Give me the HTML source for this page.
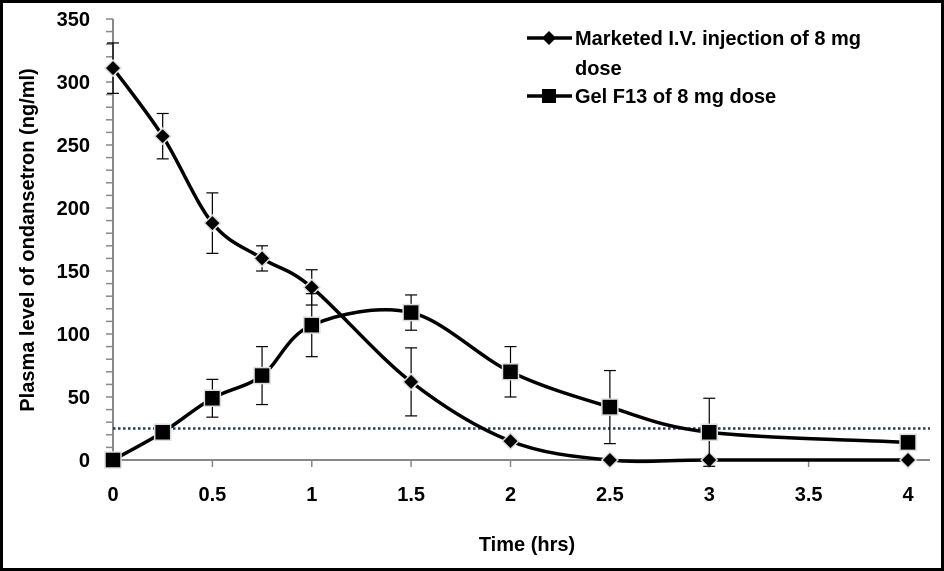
<!DOCTYPE html>
<html><head><meta charset="utf-8"><style>
body{margin:0;background:#fff}
svg{display:block;font-family:"Liberation Sans",sans-serif;font-weight:bold}
</style></head><body>
<svg id="chart" width="944" height="571">
<rect x="1.5" y="1.5" width="941" height="568" fill="#fff" stroke="#000" stroke-width="3"/>
<g id="g"></g>
</svg>
<script>
const xVals=[0,0.25,0.5,0.75,1,1.5,2,2.5,3,4];
const ivValues=[311,257,188,160,137,62,15,0,0,0];
const ivErr=[20,18,24,10,14,27,0,0,0,0];
const gelValues=[0,22,49,67,107,117,70,42,22,14];
const gelErr=[0,0,15,23,25,14,20,29,27,0];
const xTicks=[0,0.5,1,1.5,2,2.5,3,3.5,4];
const yTicks=[0,50,100,150,200,250,300,350];
const mecLevel=25;
const X=v=>113+v*198.75, Y=v=>460-v*63/50;
const NS="http://www.w3.org/2000/svg", g=document.getElementById('g');
function mk(t,a,p){const e=document.createElementNS(NS,t);for(const k in a)e.setAttribute(k,a[k]);(p||g).appendChild(e);return e;}
// axes
let ya=mk('line',{x1:113,y1:Y(350),x2:113,y2:460,stroke:'#888','stroke-width':2});


let xa=mk('line',{x1:113,y1:460,x2:930,y2:460,stroke:'#888','stroke-width':2});


for(let v=0;v<=350;v+=10){mk('line',{x1:106,x2:113,y1:Y(v),y2:Y(v),stroke:'#888','stroke-width':1.5});}
yTicks.forEach(v=>{const t=mk('text',{x:90,y:Y(v)+7,'text-anchor':'end','font-size':20});t.textContent=v;

});
xTicks.forEach(v=>{mk('line',{x1:X(v),x2:X(v),y1:460,y2:467,stroke:'#888','stroke-width':1.5});const t=mk('text',{x:X(v),y:501,'text-anchor':'middle','font-size':20});t.textContent=v;

});
let xt=mk('text',{x:527,y:551,'text-anchor':'middle','font-size':20});xt.textContent='Time (hrs)';


let yt=mk('text',{x:0,y:0,'text-anchor':'middle','font-size':20,transform:'translate(34,240) rotate(-90)'});yt.textContent='Plasma level of ondansetron (ng/ml)';


// dotted line
let dl=mk('line',{x1:X(0),x2:930,y1:Y(mecLevel),y2:Y(mecLevel),stroke:'#1f3a6e','stroke-width':2.5,'stroke-dasharray':'2.5,2.5'});


function smooth(pts){let d=`M${pts[0][0]},${pts[0][1]}`;for(let i=0;i<pts.length-1;i++){const p0=pts[i-1]||pts[i],p1=pts[i],p2=pts[i+1],p3=pts[i+2]||p2;const t=0.5/3*2/2*3/1.5/2*2;const k=1/6;d+=` C${p1[0]+(p2[0]-p0[0])*k},${p1[1]+(p2[1]-p0[1])*k} ${p2[0]-(p3[0]-p1[0])*k},${p2[1]-(p3[1]-p1[1])*k} ${p2[0]},${p2[1]}`;}return d;}
function series(vals,err,name,marker){
  xVals.forEach((x,i)=>{if(err[i]>0){const cx=X(x);mk('line',{x1:cx,x2:cx,y1:Y(vals[i]+err[i]),y2:Y(vals[i]-err[i]),stroke:'#000','stroke-width':1.2});[vals[i]+err[i],vals[i]-err[i]].forEach(v=>mk('line',{x1:cx-6,x2:cx+6,y1:Y(v),y2:Y(v),stroke:'#000','stroke-width':1.2}));}});
  const p=mk('path',{d:smooth(xVals.map((x,i)=>[X(x),Y(vals[i])])),fill:'none',stroke:'#000','stroke-width':3.5});
  
  
  xVals.forEach((x,i)=>{const cx=X(x),cy=Y(vals[i]);let m;
    if(marker==='d')m=mk('polygon',{points:`${cx},${cy-8} ${cx+8},${cy} ${cx},${cy+8} ${cx-8},${cy}`,fill:'#000',stroke:'#ddd','stroke-width':1.5});
    else m=mk('rect',{x:cx-8,y:cy-8,width:16,height:16,fill:'#000',stroke:'#ddd','stroke-width':1.5});
    
    });
}
series(ivValues,ivErr,'iv-injection','d');
series(gelValues,gelErr,'gel-f13','s');
// legend
let l1=mk('line',{x1:527,x2:572,y1:38,y2:38,stroke:'#000','stroke-width':3.5});
mk('polygon',{points:'549,31 556,38 549,45 542,38',fill:'#000'});
let lt1=mk('text',{x:575,y:45,'font-size':20});lt1.textContent='Marketed I.V. injection of 8 mg';


let lt1b=mk('text',{x:575,y:75,'font-size':20});lt1b.textContent='dose';


mk('line',{x1:527,x2:572,y1:96,y2:96,stroke:'#000','stroke-width':3.5});
mk('rect',{x:542,y:89,width:14,height:14,fill:'#000'});
let lt2=mk('text',{x:575,y:103,'font-size':20});lt2.textContent='Gel F13 of 8 mg dose';


</script>
</body></html>
